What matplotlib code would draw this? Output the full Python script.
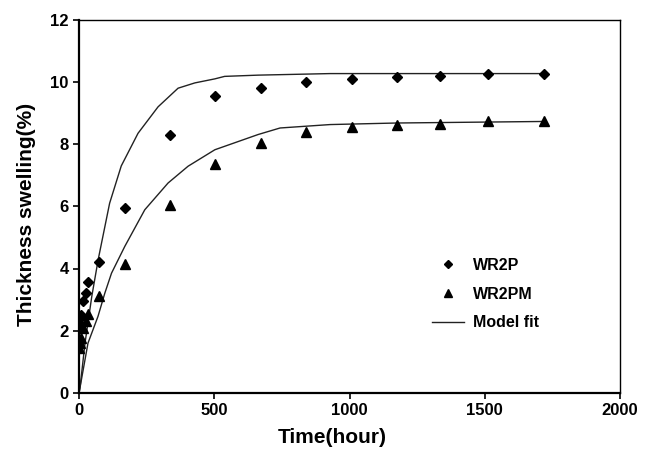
import matplotlib
matplotlib.use('Agg')
import matplotlib.pyplot as plt
from matplotlib.lines import Line2D

plt.rcParams['font.family'] = ['Liberation Sans', 'DejaVu Sans']

# measured swelling data (hours, %)
hours = [1, 4, 8, 16, 24, 34, 72, 168, 336, 504, 672, 840, 1008, 1176, 1336, 1512, 1720]
wr2p = [2.2, 2.4, 2.5, 2.95, 3.2, 3.55, 4.2, 5.95, 8.3, 9.55, 9.8, 10.0, 10.1, 10.15, 10.2, 10.27, 10.27]
wr2pm = [1.45, 1.6, 1.75, 2.1, 2.3, 2.55, 3.12, 4.14, 6.03, 7.37, 8.05, 8.4, 8.55, 8.62, 8.66, 8.73, 8.73]

# model fit curves
fit_p_hours = [0, 4, 22, 47, 71, 113, 156, 218, 292, 366, 428, 502, 538, 662, 928, 1720]
fit_p = [0, 0.2, 1.6, 3.1, 4.3, 6.1, 7.3, 8.35, 9.2, 9.8, 9.97, 10.1, 10.18, 10.22, 10.27, 10.27]
fit_pm_hours = [0, 33, 70, 95, 120, 169, 243, 329, 403, 502, 662, 743, 928, 1174, 1720]
fit_pm = [0, 1.6, 2.46, 3.2, 3.85, 4.71, 5.89, 6.75, 7.29, 7.82, 8.31, 8.52, 8.63, 8.68, 8.73]

fig = plt.figure(figsize=(6.48, 4.5), dpi=100)
ax = fig.add_axes([0.122, 0.127, 0.835, 0.829])

ax.plot(fit_p_hours, fit_p, color='#222222', lw=1.0)
ax.plot(fit_pm_hours, fit_pm, color='#222222', lw=1.0)
ax.plot(hours, wr2p, 'D', color='black', ms=5.5, ls='none')
ax.plot(hours, wr2pm, '^', color='black', ms=6.5, ls='none')

ax.set_xlim(0, 2000)
ax.set_ylim(0, 12)
ax.set_xticks([0, 500, 1000, 1500, 2000])
ax.set_yticks([0, 2, 4, 6, 8, 10, 12])
ax.tick_params(direction='out', length=4, width=1.2, labelsize=12, top=False, right=False)
for lab in ax.get_xticklabels() + ax.get_yticklabels():
    lab.set_fontweight('bold')
ax.spines['left'].set_linewidth(1.6)
ax.spines['bottom'].set_linewidth(1.6)
ax.spines['top'].set_linewidth(1.0)
ax.spines['right'].set_linewidth(1.0)

ax.set_xlabel('Time(hour)', fontsize=15, fontweight='bold')
ax.set_ylabel('Thickness swelling(%)', fontsize=15, fontweight='bold')
ax.xaxis.set_label_coords(0.468, -0.095)
ax.yaxis.set_label_coords(-0.08, 0.477)

handles = [
    Line2D([], [], marker='D', color='black', ls='none', ms=4.5),
    Line2D([], [], marker='^', color='black', ls='none', ms=5.5),
    Line2D([], [], color='#222222', lw=1.0),
]
leg = ax.legend(handles, ['WR2P', 'WR2PM', 'Model fit'], frameon=False,
                loc='upper left', bbox_to_anchor=(0.625, 0.40),
                prop={'weight': 'bold', 'size': 11.5}, labelspacing=0.85,
                handlelength=2.0, handletextpad=0.6)

fig.savefig('out.png', dpi=100)
